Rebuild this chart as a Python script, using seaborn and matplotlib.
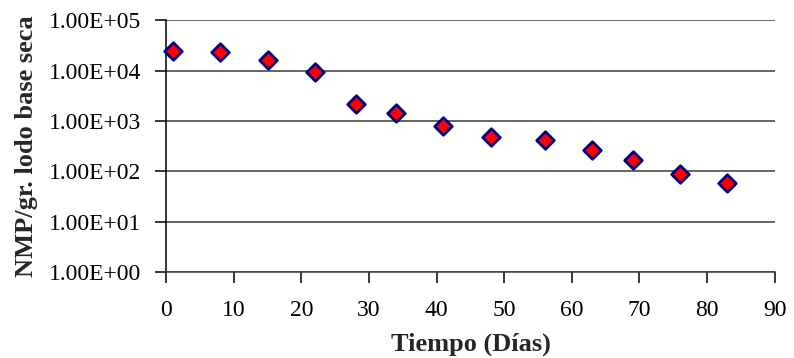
import matplotlib
matplotlib.use("Agg")
import matplotlib.pyplot as plt
import seaborn as sns
import pandas as pd
from matplotlib.ticker import FuncFormatter, FixedLocator, NullLocator

dias = [1, 8, 15, 22, 28, 34, 41, 48, 56, 63, 69, 76, 83]
nmp = [24200, 24000, 16000, 9250, 2200, 1420, 790, 494, 431, 269, 171, 90, 59]
x_ticks = [0, 10, 20, 30, 40, 50, 60, 70, 80, 90]
y_ticks = [1e0, 1e1, 1e2, 1e3, 1e4, 1e5]

sns.set_style("white")
plt.rcParams['font.family'] = ['Liberation Serif', 'DejaVu Serif']

df = pd.DataFrame({"Tiempo": dias, "NMP": nmp})

fig = plt.figure(figsize=(7.94, 3.58), dpi=100)
ax = fig.add_axes([0.2094, 0.2394, 0.9757 - 0.2094, 0.9433 - 0.2394])

sns.scatterplot(data=df, x="Tiempo", y="NMP", ax=ax, marker="D", s=80,
                color="#ff0000", edgecolor="#000080", linewidth=2.0, zorder=3,
                clip_on=False)

ax.set_yscale("log")
ax.set_ylim(1, 1e5)
ax.set_xlim(0, 90)
ax.yaxis.set_major_locator(FixedLocator(y_ticks))
ax.yaxis.set_minor_locator(NullLocator())
ax.yaxis.set_major_formatter(FuncFormatter(lambda v, p: "%.2E" % v))
ax.set_xticks(x_ticks)

for v in y_ticks:
    ax.axhline(v, color="#3a3a3a", lw=1.1, zorder=1)

for s in ["top", "right"]:
    ax.spines[s].set_visible(False)
ax.spines["left"].set_color("black")
ax.spines["left"].set_linewidth(1.1)
ax.spines["left"].set_zorder(2)
ax.spines["bottom"].set_color("#3a3a3a")
ax.spines["bottom"].set_linewidth(1.1)

ax.tick_params(axis="both", direction="out", length=8, width=1.1, color="black",
               labelsize=17, labelcolor="black", bottom=True, left=True)
ax.tick_params(axis="y", pad=10)
ax.tick_params(axis="x", pad=12)

ax.set_xlabel("Tiempo (Días)", fontsize=19, fontweight="bold", labelpad=8)
ax.set_ylabel("NMP/gr. lodo base seca", fontsize=19, fontweight="bold", labelpad=8)

fig.savefig("out.png", dpi=100)
